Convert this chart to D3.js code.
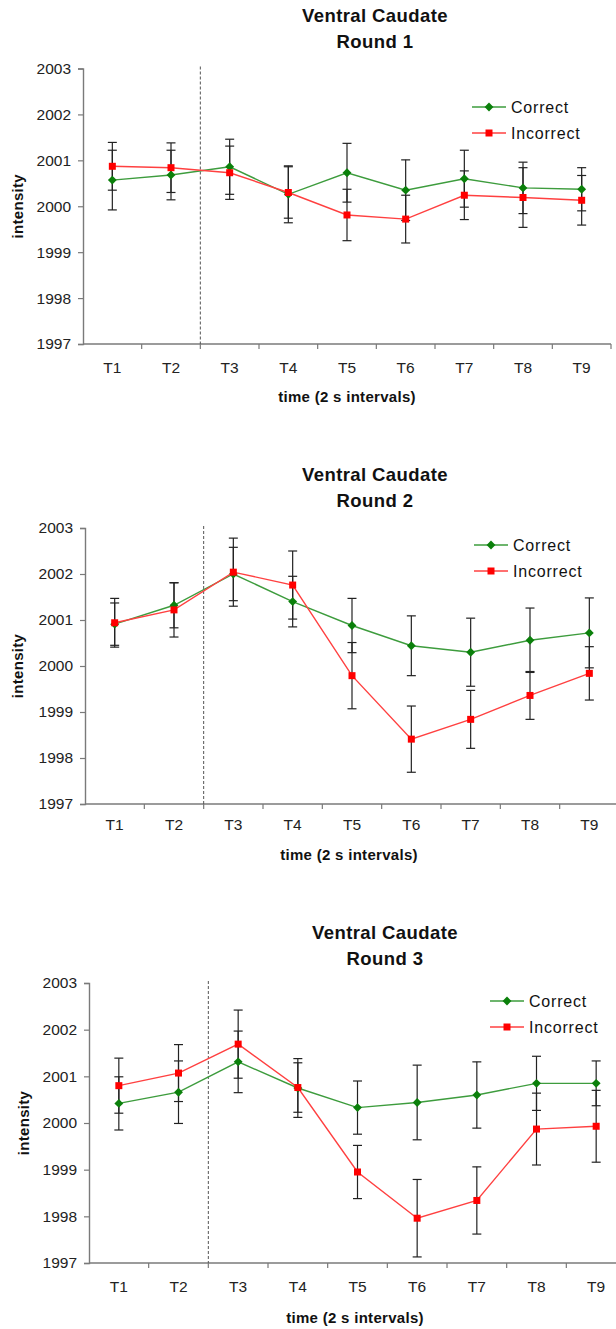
<!DOCTYPE html>
<html>
<head>
<meta charset="utf-8">
<script src="https://cdn.jsdelivr.net/npm/d3@7"></script>
<style>
  body { margin: 0; background: #fff; }
  svg { display: block; font-family: "Liberation Sans", Arial, sans-serif; }
</style>
</head>
<body>
<div id="chart"></div>
<script>
// categories and ticks
const times = ["T1", "T2", "T3", "T4", "T5", "T6", "T7", "T8", "T9"];
const yTicks = [1997, 1998, 1999, 2000, 2001, 2002, 2003];
const roundNames = ["Round 1", "Round 2", "Round 3"];

// round 1
const correct1 = [2000.57, 2000.68, 2000.86, 2000.26, 2000.73, 2000.35, 2000.60, 2000.40, 2000.37];
const correctErr1 = [0.65, 0.54, 0.60, 0.62, 0.64, 0.66, 0.62, 0.56, 0.47];
const incorrect1 = [2000.87, 2000.84, 2000.73, 2000.30, 1999.81, 1999.72, 2000.24, 2000.19, 2000.13];
const incorrectErr1 = [0.52, 0.54, 0.58, 0.56, 0.56, 0.52, 0.53, 0.65, 0.54];

// round 2
const correct2 = [2000.91, 2001.32, 2002.00, 2001.40, 2000.88, 2000.44, 2000.30, 2000.56, 2000.72];
const correctErr2 = [0.46, 0.49, 0.58, 0.55, 0.59, 0.65, 0.74, 0.70, 0.76];
const incorrect2 = [2000.94, 2001.22, 2002.04, 2001.76, 1999.79, 1998.41, 1998.84, 1999.36, 1999.84];
const incorrectErr2 = [0.53, 0.59, 0.74, 0.74, 0.72, 0.72, 0.63, 0.52, 0.58];

// round 3
const correct3 = [2000.42, 2000.66, 2001.31, 2000.75, 2000.33, 2000.44, 2000.60, 2000.85, 2000.85];
const correctErr3 = [0.57, 0.67, 0.66, 0.63, 0.57, 0.80, 0.71, 0.58, 0.48];
const incorrect3 = [2000.80, 2001.07, 2001.69, 2000.76, 1998.95, 1997.96, 1998.34, 1999.87, 1999.93];
const incorrectErr3 = [0.59, 0.61, 0.73, 0.53, 0.57, 0.83, 0.72, 0.77, 0.77];

const rounds = [
    { c: correct1, ce: correctErr1, i: incorrect1, ie: incorrectErr1 },
    { c: correct2, ce: correctErr2, i: incorrect2, ie: incorrectErr2 },
    { c: correct3, ce: correctErr3, i: incorrect3, ie: incorrectErr3 }
];

// layout of each panel (pixels in the page)
const layout = [
    { left: 83, right: 611, top: 68.5, bottom: 344, titleX: 375, titleY: 22, ylabX: 23, tickY: 373, xlabX: 347, xlabY: 402, legX: 472, legY: 107 },
    { left: 85, right: 619, top: 528, bottom: 804, titleX: 375, titleY: 481, ylabX: 23, tickY: 830, xlabX: 349, xlabY: 860, legX: 474, legY: 545 },
    { left: 89, right: 626, top: 983, bottom: 1263, titleX: 385, titleY: 939, ylabX: 29, tickY: 1292, xlabX: 355, xlabY: 1323, legX: 490, legY: 1001 }
];

const green = "#0b800b", greenLine = "#3d9c3d";
const red = "#ff0000", redLine = "#ff4040";
const axisColor = "#7a7a7a";

const svg = d3.select("#chart").append("svg")
    .attr("width", 616)
    .attr("height", 1329);

rounds.forEach((r, k) => {
    const L = layout[k];
    const g = svg.append("g");

    const x = d3.scaleBand().domain(times).range([L.left, L.right]);
    const y = d3.scaleLinear().domain([1997, 2003]).range([L.bottom, L.top]);
    const cx = d => x(d) + x.bandwidth() / 2;

    // titles
    [["Ventral Caudate", 0], [roundNames[k], 26]].forEach(t => {
        g.append("text")
            .attr("x", L.titleX).attr("y", L.titleY + t[1])
            .attr("text-anchor", "middle")
            .style("font-size", "18.5px").style("font-weight", "bold").style("letter-spacing", "0.4px")
            .attr("fill", "#111")
            .text(t[0]);
    });

    // y axis
    const yAxis = g.append("g")
        .attr("transform", `translate(${L.left},0)`)
        .call(d3.axisLeft(y).tickValues(yTicks).tickSize(5).tickPadding(7).tickFormat(d3.format("d")));
    yAxis.select(".domain").attr("stroke", axisColor).attr("stroke-width", 1.4);
    yAxis.selectAll(".tick line").attr("stroke", axisColor).attr("stroke-width", 1.2);
    yAxis.selectAll(".tick text")
        .style("font-size", "15.5px").style("font-family", "'Liberation Sans', Arial, sans-serif")
        .attr("fill", "#222");

    // x axis line with ticks at category boundaries
    g.append("line")
        .attr("x1", L.left).attr("x2", L.right)
        .attr("y1", L.bottom).attr("y2", L.bottom)
        .attr("stroke", axisColor).attr("stroke-width", 1.4);
    const bounds = times.slice(1).map(t => x(t)).concat([L.right]);
    g.selectAll(".xtick").data(bounds).join("line")
        .attr("x1", d => d).attr("x2", d => d)
        .attr("y1", L.bottom).attr("y2", L.bottom + 5)
        .attr("stroke", axisColor).attr("stroke-width", 1.2);
    g.selectAll(".xlab").data(times).join("text")
        .attr("x", d => cx(d)).attr("y", L.tickY)
        .attr("text-anchor", "middle")
        .style("font-size", "15.5px").attr("fill", "#222")
        .text(d => d);

    // axis titles
    g.append("text")
        .attr("transform", `translate(${L.ylabX},${(L.top + L.bottom) / 2}) rotate(-90)`)
        .attr("text-anchor", "middle")
        .style("font-size", "15px").style("font-weight", "bold").style("letter-spacing", "0.3px")
        .attr("fill", "#111")
        .text("intensity");
    g.append("text")
        .attr("x", L.xlabX).attr("y", L.xlabY)
        .attr("text-anchor", "middle")
        .style("font-size", "15px").style("font-weight", "bold").style("letter-spacing", "0.3px")
        .attr("fill", "#111")
        .text("time (2 s intervals)");

    // dashed divider between T2 and T3
    g.append("line")
        .attr("x1", x("T3")).attr("x2", x("T3"))
        .attr("y1", L.top - 2).attr("y2", L.bottom)
        .attr("stroke", "#555").attr("stroke-width", 1).attr("stroke-dasharray", "3,2");

    const series = [
        { vals: r.c, errs: r.ce, line: greenLine, mark: green, sym: d3.symbolDiamond2, size: 50 },
        { vals: r.i, errs: r.ie, line: redLine, mark: red, sym: d3.symbolSquare, size: 49 }
    ];

    // error bars
    series.forEach(s => {
        const eb = g.append("g");
        times.forEach((t, j) => {
            const px = cx(t), lo = y(s.vals[j] - s.errs[j]), hi = y(s.vals[j] + s.errs[j]);
            eb.append("line").attr("x1", px).attr("x2", px).attr("y1", lo).attr("y2", hi)
                .attr("stroke", "#222").attr("stroke-width", 1.2);
            [lo, hi].forEach(yy => eb.append("line")
                .attr("x1", px - 4.5).attr("x2", px + 4.5).attr("y1", yy).attr("y2", yy)
                .attr("stroke", "#222").attr("stroke-width", 1.2));
        });
    });

    // lines and markers
    series.forEach(s => {
        const line = d3.line().x((d, j) => cx(times[j])).y(d => y(d));
        g.append("path").datum(s.vals)
            .attr("fill", "none").attr("stroke", s.line).attr("stroke-width", 1.4)
            .attr("d", line);
        g.selectAll(null).data(s.vals).join("path")
            .attr("transform", (d, j) => `translate(${cx(times[j])},${y(d)})`)
            .attr("d", d3.symbol().type(s.sym).size(s.size))
            .attr("fill", s.mark);
    });

    // legend
    const leg = g.append("g");
    [["Correct", greenLine, green, d3.symbolDiamond2, 50], ["Incorrect", redLine, red, d3.symbolSquare, 49]].forEach((e, j) => {
        const ly = L.legY + j * 26;
        leg.append("line").attr("x1", L.legX).attr("x2", L.legX + 34)
            .attr("y1", ly).attr("y2", ly).attr("stroke", e[1]).attr("stroke-width", 1.4);
        leg.append("path").attr("transform", `translate(${L.legX + 17},${ly})`)
            .attr("d", d3.symbol().type(e[3]).size(e[4])).attr("fill", e[2]);
        leg.append("text").attr("x", L.legX + 39).attr("y", ly + 5.5)
            .style("font-size", "16px").style("letter-spacing", "0.8px").attr("fill", "#111")
            .text(e[0]);
    });
});
</script>
</body>
</html>
